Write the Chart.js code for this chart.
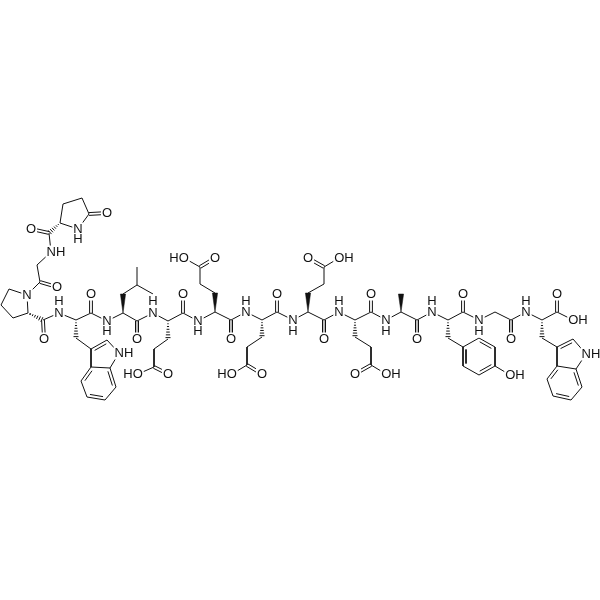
<!DOCTYPE html>
<html lang="en">

<head>
  <meta charset="UTF-8">
  <title>Peptide structure</title>
  <script src="https://cdn.jsdelivr.net/npm/chart.js"></script>
  <style>
    body { margin: 0; background: #fff; }
    canvas { display: block; }
  </style>
</head>

<body>
  <canvas id="chart" width="600" height="600"></canvas>
  <script>
    // plain bonds, each entry is one unbroken run of atoms [x, y]
    const singleBonds = [
      [[60, 223], [63, 204], [82, 198], [89, 214], [78, 229], [60, 223]],
      [[49, 233], [51, 252], [37, 265], [40, 282], [27, 295], [9, 289], [1, 305], [13, 318], [28, 313], [27, 295]],
      // backbone
      [[43, 320], [59, 313], [76, 320], [91, 313], [107, 321], [123, 313], [137, 321], [153, 313], [168, 321], [183, 313],
       [198, 321], [215, 312], [231, 320], [246, 312], [262, 320], [277, 312], [293, 320], [308, 312], [324, 320], [339, 312],
       [355, 320], [371, 312], [386, 320], [401, 312], [417, 320], [432, 312], [448, 320], [463, 312], [479, 320], [495, 312],
       [511, 320], [526, 312], [542, 320], [557, 312], [573, 320]],
      // Trp 1
      [[76, 338], [91, 349], [91, 367], [110, 368], [119, 353], [107, 340]],
      [[81, 381], [87, 397]],
      [[105, 400], [116, 387]],
      // Leu
      [[123, 294], [137, 285], [137, 267]],
      [[137, 285], [153, 294]],
      // Glu side chains
      [[168, 339], [154, 349], [154, 367], [138, 374]],
      [[215, 293], [200, 284], [200, 267], [184, 258]],
      [[262, 337], [247, 347], [247, 365], [232, 374]],
      [[308, 293], [324, 284], [324, 267], [339, 258]],
      [[355, 337], [371, 347], [371, 365], [386, 374]],
      // Tyr
      [[448, 338], [463, 347], [479, 338]],
      [[495, 347], [495, 366], [510, 375]],
      [[479, 375], [463, 366]],
      // Trp 2
      [[542, 338], [557, 347], [557, 366], [576, 369], [586, 354], [573, 339]],
      [[547, 379], [553, 396]],
      [[571, 400], [582, 387]]
    ];

    // carbonyls, two lines centred on the bond [x1, y1, x2, y2]
    const carbonylBonds = [
      [89, 214, 107, 213],
      [49, 233, 31, 229],
      [40, 282, 57, 287],
      [43, 320, 44, 339],
      [91, 313, 91, 294],
      [137, 321, 137, 339],
      [183, 313, 183, 294],
      [231, 320, 231, 339],
      [277, 312, 277, 294],
      [324, 320, 324, 339],
      [371, 312, 371, 294],
      [417, 320, 417, 339],
      [463, 312, 463, 294],
      [511, 320, 511, 339],
      [557, 312, 557, 294],
      [154, 367, 168, 374],
      [200, 267, 215, 258],
      [247, 365, 262, 374],
      [324, 267, 308, 258],
      [371, 365, 355, 374]
    ];

    // ring double bonds [x1, y1, x2, y2, side of the inner line]
    const ringDoubles = [
      [91, 349, 107, 340, 1],
      [91, 367, 81, 381, -1],
      [87, 397, 105, 400, -1],
      [116, 387, 110, 368, -1],
      [557, 347, 573, 339, 1],
      [557, 366, 547, 379, -1],
      [553, 396, 571, 400, -1],
      [582, 387, 576, 369, -1],
      [463, 347, 463, 366, -1],
      [479, 338, 495, 347, 1],
      [479, 375, 495, 366, -1]
    ];

    // stereo bonds, narrow end first
    const wedgeBonds = [
      [123, 313, 123, 294],
      [215, 312, 215, 293],
      [308, 312, 308, 293],
      [401, 312, 401, 294]
    ];
    const hashBonds = [
      [60, 223, 49, 233],
      [28, 313, 43, 320],
      [76, 320, 76, 338],
      [168, 321, 168, 339],
      [262, 320, 262, 337],
      [355, 320, 355, 337],
      [448, 320, 448, 338],
      [542, 320, 542, 338]
    ];

    // atom labels, one list per text
    const oAtoms = [[107, 213], [31, 229], [57, 287], [44, 339], [91, 294], [137, 339], [183, 294], [231, 339], [277, 294], [324, 339],
      [371, 294], [417, 339], [463, 294], [511, 339], [557, 294], [168, 374], [215, 258], [262, 374], [308, 258], [355, 374]];
    const nAtoms = [[78, 229], [27, 295], [59, 313], [107, 321], [153, 313], [198, 321], [246, 312], [293, 320], [339, 312], [386, 320],
      [432, 312], [479, 320], [526, 312]];
    const hAtoms = [[78, 239], [59, 301], [107, 331], [153, 301], [198, 331], [246, 301], [293, 331], [339, 301], [386, 331], [432, 301],
      [479, 331], [526, 301]];
    const nhAtoms = [[56, 252], [124, 353], [591, 354]];
    const hoAtoms = [[133, 374], [179, 258], [227, 374]];
    const ohAtoms = [[344, 258], [391, 374], [515, 375], [578, 320]];

    const atomGroups = [['O', oAtoms], ['N', nAtoms], ['H', hAtoms], ['NH', nhAtoms], ['HO', hoAtoms], ['OH', ohAtoms]];

    const flatten = runs => runs.flatMap(run => [...run.map(([x, y]) => ({ x, y })), { x: null, y: null }]);

    function normal(x1, y1, x2, y2) {
      const len = Math.hypot(x2 - x1, y2 - y1);
      return { nx: -(y2 - y1) / len, ny: (x2 - x1) / len, ux: (x2 - x1) / len, uy: (y2 - y1) / len };
    }

    function carbonylPoints() {
      const pts = [];
      carbonylBonds.forEach(([x1, y1, x2, y2]) => {
        const { nx, ny } = normal(x1, y1, x2, y2);
        [-1.4, 1.4].forEach(off => {
          pts.push({ x: x1 + nx * off, y: y1 + ny * off }, { x: x2 + nx * off, y: y2 + ny * off }, { x: null, y: null });
        });
      });
      return pts;
    }

    // inner, shorter line of a ring double bond
    function ringInnerPoints() {
      const pts = [];
      ringDoubles.forEach(([x1, y1, x2, y2, side]) => {
        const { nx, ny, ux, uy } = normal(x1, y1, x2, y2);
        pts.push({ x: x1 + nx * 3 * side + ux * 2.5, y: y1 + ny * 3 * side + uy * 2.5 });
        pts.push({ x: x2 + nx * 3 * side - ux * 2.5, y: y2 + ny * 3 * side - uy * 2.5 });
        pts.push({ x: null, y: null });
      });
      return pts;
    }

    function hashPoints() {
      const pts = [];
      hashBonds.forEach(([x1, y1, x2, y2]) => {
        const { nx, ny } = normal(x1, y1, x2, y2);
        for (let i = 1; i <= 6; i++) {
          const t = i / 6.5, w = 0.3 + t * 2.4;
          const cx = x1 + (x2 - x1) * t, cy = y1 + (y2 - y1) * t;
          pts.push({ x: cx - nx * w, y: cy - ny * w }, { x: cx + nx * w, y: cy + ny * w }, { x: null, y: null });
        }
      });
      return pts;
    }

    function wedgePoints([x1, y1, x2, y2]) {
      const { nx, ny } = normal(x1, y1, x2, y2);
      return [{ x: x1, y: y1 }, { x: x2 - nx * 2.6, y: y2 - ny * 2.6 }, { x: x2 + nx * 2.6, y: y2 + ny * 2.6 }, { x: x1, y: y1 }];
    }

    const lineStyle = { showLine: true, pointRadius: 0, borderColor: '#111', borderWidth: 1, spanGaps: false, tension: 0 };

    // atom labels sit on a white patch so the bonds stop short of them
    const atomLabels = {
      id: 'atomLabels',
      afterDatasetsDraw(chart) {
        const { ctx, scales: { x, y } } = chart;
        ctx.save();
        ctx.font = '13px "Liberation Sans"';
        ctx.textAlign = 'center';
        ctx.textBaseline = 'middle';
        atomGroups.forEach(([text, atoms]) => {
          const w = ctx.measureText(text).width;
          atoms.forEach(([ax, ay]) => {
            ctx.fillStyle = '#fff';
            ctx.fillRect(x.getPixelForValue(ax) - w / 2 - 1, y.getPixelForValue(ay) - 6.5, w + 2, 13);
          });
        });
        ctx.fillStyle = '#111';
        atomGroups.forEach(([text, atoms]) => {
          atoms.forEach(([ax, ay]) => ctx.fillText(text, x.getPixelForValue(ax), y.getPixelForValue(ay) + 0.5));
        });
        ctx.restore();
      }
    };

    new Chart(document.getElementById('chart').getContext('2d'), {
      type: 'scatter',
      data: {
        datasets: [
          { ...lineStyle, data: flatten(singleBonds) },
          { ...lineStyle, data: flatten(ringDoubles.map(b => [[b[0], b[1]], [b[2], b[3]]])) },
          { ...lineStyle, data: ringInnerPoints() },
          { ...lineStyle, data: carbonylPoints() },
          { ...lineStyle, data: hashPoints() },
          ...wedgeBonds.map(b => ({ ...lineStyle, borderWidth: 0.5, data: wedgePoints(b), fill: 'shape', backgroundColor: '#111' }))
        ]
      },
      options: {
        responsive: false,
        animation: false,
        layout: { padding: 0 },
        plugins: { legend: { display: false }, tooltip: { enabled: false } },
        scales: {
          x: { type: 'linear', min: 0, max: 600, display: false },
          y: { type: 'linear', min: 0, max: 600, reverse: true, display: false }
        }
      },
      plugins: [atomLabels]
    });
  </script>
</body>

</html>
